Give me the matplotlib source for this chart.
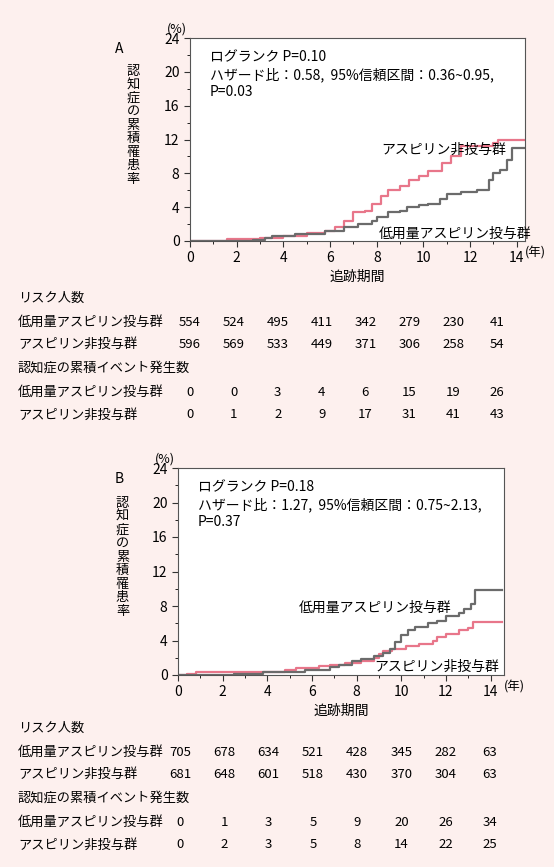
import matplotlib
matplotlib.use("Agg")
import matplotlib.pyplot as plt

plt.rcParams['font.family'] = ['Noto Sans CJK JP', 'DejaVu Sans']

W, H = 554, 867
BG = '#fdf0ee'
PINK = '#e8768a'
GRAY = '#6b6b6b'

# Panel A
a_non_x = [0, 1.6, 3.0, 4.0, 5.0, 5.8, 6.2, 6.6, 7.0, 7.5, 7.8, 8.2, 8.5, 9.0, 9.4, 9.8, 10.2, 10.8, 11.2, 11.6, 13.0, 13.2, 14.4]
a_non_y = [0, 0.2, 0.4, 0.6, 0.9, 1.2, 1.6, 2.4, 3.4, 3.6, 4.4, 5.3, 6.0, 6.5, 7.2, 7.7, 8.3, 9.2, 10.0, 11.2, 11.6, 12.0, 12.0]
a_asp_x = [0, 2.7, 3.2, 3.5, 4.5, 5.8, 6.6, 7.2, 7.8, 8.0, 8.5, 9.0, 9.3, 9.8, 10.2, 10.7, 11.0, 11.6, 12.3, 12.8, 13.0, 13.3, 13.6, 13.8, 14.4]
a_asp_y = [0, 0.1, 0.4, 0.6, 0.8, 1.2, 1.6, 2.0, 2.4, 2.8, 3.4, 3.6, 4.0, 4.2, 4.4, 5.0, 5.6, 5.8, 6.0, 7.2, 8.0, 8.4, 9.6, 11.0, 11.0]
# Panel B
b_non_x = [0, 0.4, 0.8, 3.8, 4.8, 5.3, 6.3, 6.8, 7.5, 8.2, 8.8, 9.0, 9.2, 9.6, 10.2, 10.8, 11.4, 11.6, 12.0, 12.6, 13.0, 13.2, 14.5]
b_non_y = [0, 0.1, 0.3, 0.4, 0.6, 0.8, 1.0, 1.2, 1.4, 1.6, 2.0, 2.4, 2.8, 3.0, 3.4, 3.6, 4.0, 4.4, 4.8, 5.2, 5.4, 6.2, 6.2]
b_asp_x = [0, 2.5, 3.8, 5.7, 6.8, 7.2, 7.8, 8.2, 8.8, 9.2, 9.5, 9.7, 10.0, 10.3, 10.6, 11.2, 11.6, 12.0, 12.6, 12.8, 13.1, 13.3, 14.5]
b_asp_y = [0, 0.1, 0.4, 0.6, 0.9, 1.2, 1.6, 1.9, 2.2, 2.6, 3.0, 3.8, 4.6, 5.2, 5.6, 6.0, 6.3, 6.8, 7.2, 7.6, 8.2, 9.8, 9.8]

xticks = [0, 2, 4, 6, 8, 10, 12, 14]
yticks = [0, 4, 8, 12, 16, 20, 24]
row_labels = ['低用量アスピリン投与群', 'アスピリン非投与群']
a_risk = [[554, 524, 495, 411, 342, 279, 230, 41], [596, 569, 533, 449, 371, 306, 258, 54]]
a_events = [[0, 0, 3, 4, 6, 15, 19, 26], [0, 1, 2, 9, 17, 31, 41, 43]]
b_risk = [[705, 678, 634, 521, 428, 345, 282, 63], [681, 648, 601, 518, 430, 370, 304, 63]]
b_events = [[0, 1, 3, 5, 9, 20, 26, 34], [0, 2, 3, 5, 8, 14, 22, 25]]

fig = plt.figure(figsize=(W/100, H/100), dpi=100)
fig.patch.set_facecolor(BG)

def ax_at(l, t, r, b):
    return fig.add_axes([l/W, 1-b/H, (r-l)/W, (b-t)/H])

def panel(l, t, r, b, xmax, nx, ny, ax_, ay_, letter, lx, stats, lblA, lblB):
    ax = ax_at(l, t, r, b)
    ax.set_facecolor('white')
    ax.step(nx, ny, where='post', color=PINK, lw=1.6)
    ax.step(ax_, ay_, where='post', color=GRAY, lw=1.6)
    ax.set_xlim(0, xmax); ax.set_ylim(0, 24)
    ax.set_xticks(xticks); ax.set_xticks(range(0, 15), minor=True)
    ax.set_yticks(yticks); ax.set_yticks(range(0, 25, 2), minor=True)
    ax.set_xticklabels(['0', '2', '4', '6', '8', '10', '12', '14'])
    ax.tick_params(labelsize=10, length=4, direction='out', color='#333')
    ax.tick_params(which='minor', length=2.5)
    for s in ax.spines.values():
        s.set_linewidth(0.8); s.set_color('#555')
    ax.text(-0.01, 1.01, '(%)', transform=ax.transAxes, fontsize=9, ha='right', va='bottom')
    ax.text(1.0, -0.06, '(年)', transform=ax.transAxes, fontsize=9, ha='left', va='center')
    ax.text(-0.17, 0.57, '認\n知\n症\nの\n累\n積\n罹\n患\n率', transform=ax.transAxes, fontsize=9.5, ha='center', va='center', linespacing=1.05)
    ax.text(lx, 0.98, letter, transform=ax.transAxes, fontsize=10, ha='center', va='top')
    ax.text(0.06, 0.94, stats, transform=ax.transAxes, fontsize=10, ha='left', va='top', linespacing=1.25)
    ax.text(0.5, -0.14, '追跡期間', transform=ax.transAxes, fontsize=10, ha='center', va='top')
    for (x, y, s) in lblA + lblB:
        ax.text(x, y, s, fontsize=10, ha='left', va='center')
    return ax

panel(190, 38, 525, 241, 14.35, a_non_x, a_non_y, a_asp_x, a_asp_y, 'A', -0.21,
      'ログランク P=0.10\nハザード比：0.58,  95%信頼区間：0.36~0.95,\nP=0.03',
      [(8.2, 10.8, 'アスピリン非投与群')], [(8.1, 0.8, '低用量アスピリン投与群')])
panel(178, 468, 504, 675, 14.6, b_non_x, b_non_y, b_asp_x, b_asp_y, 'B', -0.18,
      'ログランク P=0.18\nハザード比：1.27,  95%信頼区間：0.75~2.13,\nP=0.37',
      [(8.8, 1.0, 'アスピリン非投与群')], [(5.4, 7.8, '低用量アスピリン投与群')])

def table(y0, ax0, ax14, risk, events):
    def col(i):
        return (ax0 + (ax14 - ax0) * i / 7) / W
    fs = 9.5
    fig.text(18/W, 1-y0/H, 'リスク人数', fontsize=fs, va='center')
    ys = [y0+24, y0+46, y0+70, y0+94, y0+117]
    fig.text(18/W, 1-ys[2]/H, '認知症の累積イベント発生数', fontsize=fs, va='center')
    for k, data, yy in [(0, risk, ys[0:2]), (1, events, ys[3:5])]:
        for r in range(2):
            fig.text(18/W, 1-yy[r]/H, row_labels[r], fontsize=fs, va='center')
            for i, v in enumerate(data[r]):
                fig.text(col(i), 1-yy[r]/H, str(v), fontsize=fs, va='center', ha='center')

table(298, 190, 497, a_risk, a_events)
table(728, 180, 490, b_risk, b_events)

fig.savefig('out.png', dpi=100, facecolor=BG)
